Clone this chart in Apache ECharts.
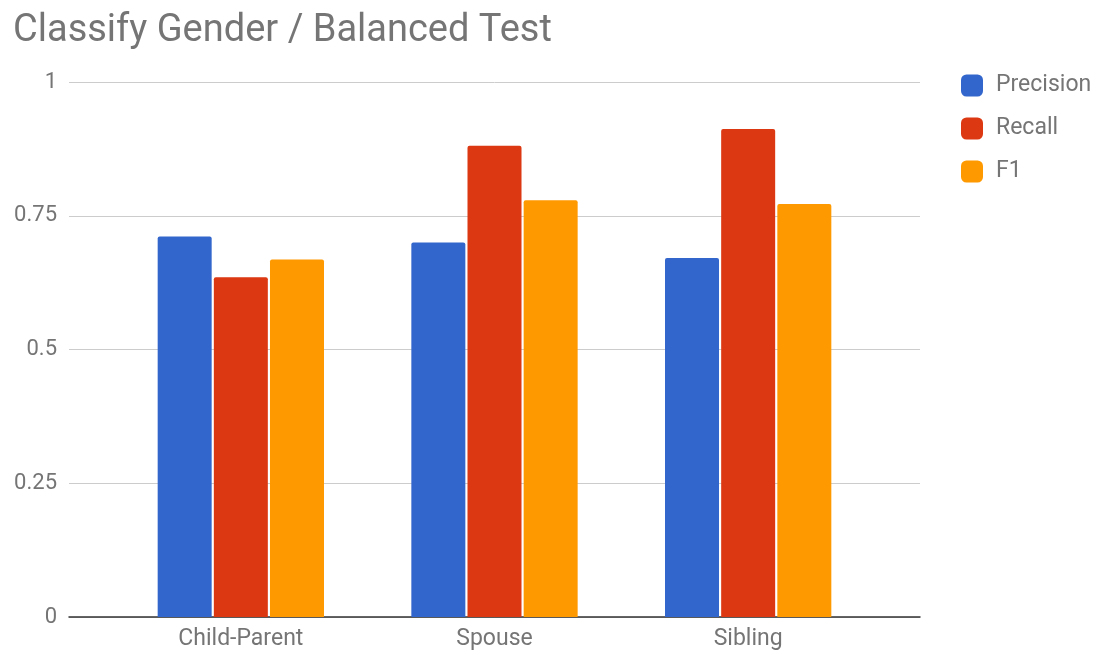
<!DOCTYPE html>
<html>
<head>
<meta charset="utf-8">
<script src="https://cdn.jsdelivr.net/npm/echarts@6/dist/echarts.min.js"></script>
<style>
  html, body { margin: 0; padding: 0; background: #fff; }
  #chart { width: 1106px; height: 655px; }
</style>
</head>
<body>
<div id="chart"></div>
<script>
var categories = ['Child-Parent', 'Spouse', 'Sibling'];
var precision = [0.711, 0.700, 0.671];
var recall = [0.635, 0.881, 0.912];
var f1 = [0.668, 0.779, 0.772];
var yTicks = [0, 0.25, 0.5, 0.75, 1];

var chart = echarts.init(document.getElementById('chart'), null, { renderer: 'canvas' });
var font = 'Roboto, sans-serif';
var grey = '#757575';

function bar(name, data, color) {
  return {
    name: name,
    type: 'bar',
    xAxisIndex: 1,
    yAxisIndex: 1,
    data: data,
    barWidth: 54,
    barGap: '4%',
    itemStyle: { color: color, borderRadius: [2, 2, 0, 0] }
  };
}

var yRange = { min: yTicks[0], max: yTicks[yTicks.length - 1], interval: 0.25 };

chart.setOption({
  animation: false,
  title: {
    text: 'Classify Gender / Balanced Test',
    left: 8,
    top: 7,
    textStyle: { fontFamily: font, fontSize: 38, fontWeight: 'normal', color: grey }
  },
  legend: {
    orient: 'vertical',
    left: 956,
    top: 69,
    itemWidth: 22,
    itemHeight: 22,
    itemGap: 20,
    icon: 'roundRect',
    textStyle: { fontFamily: font, fontSize: 23, color: grey, padding: [0, 0, 0, 8] }
  },
  grid: [
    // full-width frame for gridlines and baseline
    { left: 69, right: 186, top: 82, bottom: 38, containLabel: false },
    // inset band where the categories sit
    { left: 114, right: 231, top: 82, bottom: 38, containLabel: false }
  ],
  xAxis: [
    {
      gridIndex: 0,
      type: 'category',
      data: categories,
      axisLine: { lineStyle: { color: '#333', width: 1.5 } },
      axisTick: { show: false },
      axisLabel: { show: false }
    },
    {
      gridIndex: 1,
      type: 'category',
      data: categories,
      axisLine: { show: false },
      axisTick: { show: false },
      axisLabel: { fontFamily: font, fontSize: 23, color: grey, margin: 11 }
    }
  ],
  yAxis: [
    {
      gridIndex: 0,
      type: 'value',
      min: yRange.min,
      max: yRange.max,
      interval: yRange.interval,
      axisLine: { show: false },
      axisTick: { show: false },
      splitLine: { lineStyle: { color: '#cccccc' } },
      axisLabel: { fontFamily: font, fontSize: 22, color: grey, margin: 12 }
    },
    {
      gridIndex: 1,
      type: 'value',
      min: yRange.min,
      max: yRange.max,
      interval: yRange.interval,
      show: false
    }
  ],
  series: [
    bar('Precision', precision, '#3366cc'),
    bar('Recall', recall, '#dc3912'),
    bar('F1', f1, '#ff9900')
  ]
});
</script>
</body>
</html>
